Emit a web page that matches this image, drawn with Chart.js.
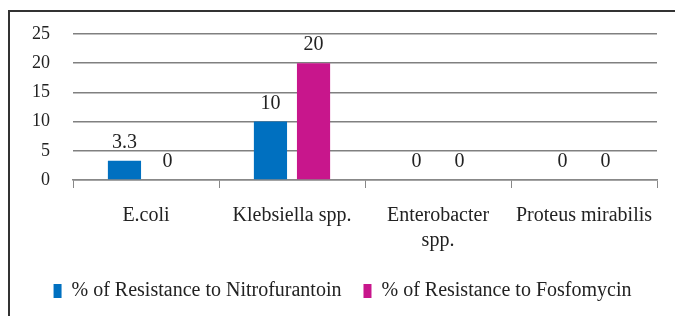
<!DOCTYPE html>
<html lang="en">
<head>
  <meta charset="UTF-8" />
  <title>Resistance chart</title>
  <script src="https://cdn.jsdelivr.net/npm/chart.js"></script>
  <style>
    body {
      margin: 0;
      padding: 0;
      background: #fff;
      overflow: hidden;
    }
    .frame {
      position: absolute;
      left: 8px;
      top: 10px;
      width: 700px;
      height: 340px;
      border-left: 2px solid #333;
      border-top: 2px solid #333;
    }
    .chart-box {
      position: absolute;
      left: 0;
      top: 0;
      width: 675px;
      height: 316px;
    }
  </style>
</head>
<body>
  <div class="frame"></div>
  <div class="chart-box">
    <canvas id="barChart"></canvas>
  </div>

<script>
  // chart data
  const organisms = ['E.coli', 'Klebsiella spp.', ['Enterobacter', 'spp.'], 'Proteus mirabilis'];
  const nitrofurantoin = [3.3, 10, 0, 0];
  const fosfomycin = [0, 20, 0, 0];
  const yTicks = [0, 5, 10, 15, 20, 25];

  const serif = "'Liberation Serif', 'Times New Roman', serif";

  // writes the value above each bar
  const valueLabels = {
    id: 'valueLabels',
    afterDatasetsDraw(chart) {
      const ctx = chart.ctx;
      ctx.save();
      ctx.font = '20px ' + serif;
      ctx.fillStyle = '#222';
      ctx.textAlign = 'center';
      ctx.textBaseline = 'middle';
      chart.data.datasets.forEach((ds, i) => {
        chart.getDatasetMeta(i).data.forEach((bar, j) => {
          ctx.fillText(String(ds.data[j]), bar.x, bar.y - 18);
        });
      });
      ctx.restore();
    }
  };

  Chart.defaults.font.family = serif;
  Chart.defaults.color = '#222';

  new Chart(document.getElementById('barChart').getContext('2d'), {
    type: 'bar',
    data: {
      labels: organisms,
      datasets: [
        {
          label: '% of Resistance to Nitrofurantoin',
          data: nitrofurantoin,
          backgroundColor: '#0070C0'
        },
        {
          label: '% of Resistance to Fosfomycin',
          data: fosfomycin,
          backgroundColor: '#C8168C'
        }
      ]
    },
    options: {
      responsive: true,
      maintainAspectRatio: false,
      animation: false,
      categoryPercentage: 0.59,
      barPercentage: 0.77,
      layout: { padding: { top: 34, right: 18, bottom: 5, left: 28 } },
      plugins: {
        tooltip: { enabled: false },
        legend: {
          position: 'bottom',
          labels: {
            font: { size: 20 },
            boxWidth: 8,
            boxHeight: 14,
            padding: 22,
            color: '#222'
          }
        }
      },
      scales: {
        x: {
          grid: {
            drawOnChartArea: false,
            drawTicks: true,
            tickLength: 8,
            color: '#888'
          },
          border: { display: true, color: '#888', width: 1.5 },
          ticks: { font: { size: 20, lineHeight: 1.25 }, padding: 15, maxRotation: 0, autoSkip: false },
          afterFit(scale) { scale.height = 79; }
        },
        y: {
          min: 0,
          max: 25,
          afterBuildTicks(scale) { scale.ticks = yTicks.map(v => ({ value: v })); },
          grid: { drawTicks: false, color: '#808080', lineWidth: 1.5 },
          border: { display: false },
          ticks: { font: { size: 18 }, padding: 23 },
          afterFit(scale) { scale.width = 45; }
        }
      }
    },
    plugins: [valueLabels]
  });
</script>
</body>
</html>
